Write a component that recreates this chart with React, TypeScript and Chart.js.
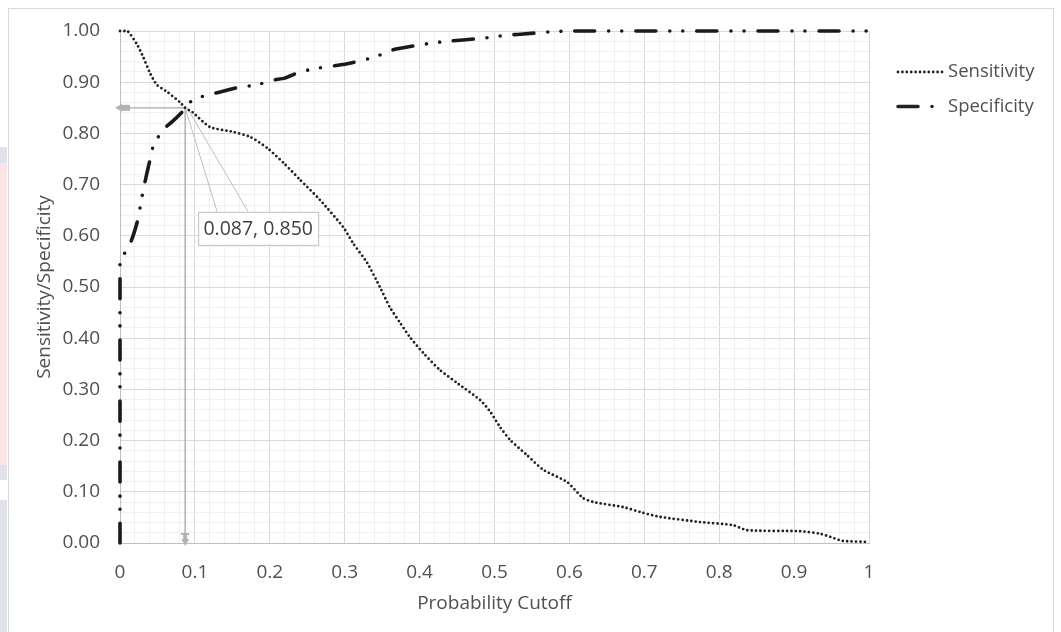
import React, { useEffect, useRef } from "react";
import { Chart, registerables } from "chart.js";

Chart.register(...registerables);

// ---- data ----
const sensitivityX = [0, 0.01, 0.023, 0.031, 0.04, 0.049, 0.063, 0.08, 0.087, 0.097, 0.12, 0.151, 0.174, 0.197, 0.22, 0.24, 0.267, 0.298, 0.311, 0.33, 0.347, 0.36, 0.374, 0.387, 0.405, 0.427, 0.45, 0.481, 0.495, 0.507, 0.521, 0.543, 0.565, 0.597, 0.618, 0.632, 0.672, 0.698, 0.721, 0.774, 0.818, 0.837, 0.908, 0.935, 0.952, 0.965, 1.0];
const sensitivityY = [1.0, 1.0, 0.973, 0.949, 0.918, 0.895, 0.881, 0.861, 0.85, 0.841, 0.8125, 0.803, 0.793, 0.771, 0.74, 0.71, 0.67, 0.617, 0.586, 0.547, 0.5, 0.461, 0.43, 0.402, 0.371, 0.338, 0.3125, 0.279, 0.255, 0.227, 0.201, 0.172, 0.143, 0.119, 0.088, 0.08, 0.07, 0.059, 0.051, 0.041, 0.035, 0.025, 0.023, 0.018, 0.01, 0.004, 0.002];

const specificityX = [0, 0, 0.011, 0.017, 0.023, 0.027, 0.031, 0.036, 0.04, 0.044, 0.057, 0.069, 0.083, 0.087, 0.097, 0.117, 0.134, 0.156, 0.183, 0.204, 0.22, 0.24, 0.267, 0.3, 0.33, 0.347, 0.364, 0.401, 0.431, 0.485, 0.517, 0.538, 0.57, 0.605, 1.0];
const specificityY = [0, 0.55, 0.576, 0.598, 0.627, 0.656, 0.689, 0.723, 0.748, 0.773, 0.807, 0.822, 0.842, 0.85, 0.865, 0.875, 0.881, 0.889, 0.895, 0.904, 0.908, 0.92, 0.928, 0.935, 0.945, 0.953, 0.963, 0.973, 0.979, 0.986, 0.992, 0.994, 0.998, 1.0, 1.0];

const xTickLabels = ["0", "0.1", "0.2", "0.3", "0.4", "0.5", "0.6", "0.7", "0.8", "0.9", "1"];
const yTickLabels = ["0.00", "0.10", "0.20", "0.30", "0.40", "0.50", "0.60", "0.70", "0.80", "0.90", "1.00"];

const seriesNames = ["Sensitivity", "Specificity"];
const cutoffX = 0.087;
const cutoffY = 0.85;
const cutoffLabel = "0.087, 0.850";
const xTitle = "Probability Cutoff";
const yTitle = "Sensitivity/Specificity";

const FONT = "'Open Sans', sans-serif";
const TEXT = "#505050";
const FS = 19;
const SENS_DASH = [0, 4.4];
const SPEC_DASH = [20, 14, 0, 13, 0, 14];

const isMajor = (v: number) => Math.abs(v * 10 - Math.round(v * 10)) < 1e-6;

const toPoints = (xs: number[], ys: number[]) => xs.map((x, i) => ({ x, y: ys[i] }));

const annotationPlugin = {
  id: "cutoffAnnotation",
  beforeDatasetsDraw(chart: any) {
    const { ctx, scales } = chart;
    const x = scales.x, y = scales.y;
    const px = x.getPixelForValue(cutoffX);
    const py = y.getPixelForValue(cutoffY);
    const x0 = x.getPixelForValue(0);
    const y0 = y.getPixelForValue(0);
    ctx.save();
    ctx.strokeStyle = "#a6a6a6";
    ctx.lineWidth = 1.3;
    ctx.beginPath();
    ctx.moveTo(px, py);
    ctx.lineTo(x0 + 6, py);
    ctx.moveTo(px, py);
    ctx.lineTo(px, y0 - 6);
    ctx.stroke();
    // leader lines
    ctx.strokeStyle = "#bfbfbf";
    ctx.lineWidth = 1;
    ctx.beginPath();
    ctx.moveTo(px, py);
    ctx.lineTo(px + 32, py + 104);
    ctx.moveTo(px + 2, py);
    ctx.lineTo(px + 63, py + 104);
    ctx.stroke();
    // arrowheads
    ctx.fillStyle = "#b3b3b3";
    ctx.beginPath();
    ctx.moveTo(x0 - 5, py);
    ctx.lineTo(x0 + 2, py - 4);
    ctx.lineTo(x0 + 2, py + 4);
    ctx.closePath();
    ctx.fill();
    ctx.fillRect(x0 + 1, py - 3, 9, 6);
    ctx.beginPath();
    ctx.moveTo(px, y0 + 3);
    ctx.lineTo(px - 4, y0 - 4);
    ctx.lineTo(px + 4, y0 - 4);
    ctx.closePath();
    ctx.fill();
    ctx.fillRect(px - 2, y0 - 10, 4, 7);
    ctx.fillRect(px - 4, y0 - 10, 8, 2);
    ctx.restore();
  },
  afterDatasetsDraw(chart: any) {
    const { ctx, scales } = chart;
    const px = scales.x.getPixelForValue(cutoffX);
    const py = scales.y.getPixelForValue(cutoffY);
    ctx.save();
    const bx = px + 13, by = py + 104, bw = 120, bh = 33;
    ctx.fillStyle = "#ffffff";
    ctx.fillRect(bx, by, bw, bh);
    ctx.strokeStyle = "#bfbfbf";
    ctx.lineWidth = 1;
    ctx.strokeRect(bx + 0.5, by + 0.5, bw, bh);
    ctx.fillStyle = "#404040";
    ctx.font = `19.5px ${FONT}`;
    ctx.textAlign = "center";
    ctx.textBaseline = "middle";
    ctx.fillText(cutoffLabel, bx + bw / 2, by + bh / 2 + 1);
    ctx.restore();
  },
  afterDraw(chart: any) {
    const { ctx } = chart;
    ctx.save();
    ctx.font = `${FS - 0.5}px ${FONT}`;
    ctx.textAlign = "left";
    ctx.textBaseline = "middle";
    const entries = [
      { y: 63, dash: SENS_DASH, width: 2.8 },
      { y: 97.5, dash: SPEC_DASH, width: 3.6 },
    ];
    entries.forEach((e, i) => {
      ctx.strokeStyle = "#222222";
      ctx.lineWidth = e.width;
      ctx.lineCap = "round";
      ctx.setLineDash(e.dash);
      ctx.beginPath();
      ctx.moveTo(889, e.y);
      ctx.lineTo(935, e.y);
      ctx.stroke();
      ctx.setLineDash([]);
      ctx.fillStyle = TEXT;
      ctx.fillText(seriesNames[i], 939, e.y);
    });
    ctx.restore();
  },
};

export default function App() {
  const ref = useRef<HTMLCanvasElement | null>(null);
  useEffect(() => {
    if (!ref.current) return;
    const gridColor = (c: any) => (c.tick && isMajor(c.tick.value) ? "#d9d9d9" : "#f0f0f0");
    const chart = new Chart(ref.current, {
      type: "scatter",
      data: {
        datasets: [
          {
            label: seriesNames[0],
            data: toPoints(sensitivityX, sensitivityY),
            showLine: true,
            borderColor: "#222222",
            borderWidth: 2.8,
            borderDash: SENS_DASH,
            borderCapStyle: "round",
            pointRadius: 0,
            tension: 0.2,
            clip: false,
          } as any,
          {
            label: seriesNames[1],
            data: toPoints(specificityX, specificityY),
            showLine: true,
            borderColor: "#1a1a1a",
            borderWidth: 3.6,
            borderDash: SPEC_DASH,
            borderCapStyle: "round",
            pointRadius: 0,
            tension: 0.2,
            clip: false,
          } as any,
        ],
      },
      options: {
        responsive: false,
        animation: false,
        devicePixelRatio: 1,
        layout: { autoPadding: false, padding: { left: 0, top: 22, right: 184, bottom: 0 } },
        plugins: { legend: { display: false }, tooltip: { enabled: false } },
        scales: {
          x: {
            type: "linear",
            min: 0,
            max: 1,
            afterFit: (s: any) => { s.height = 89; s.paddingLeft = 0; s.paddingRight = 0; },
            grid: { color: gridColor, drawTicks: false, lineWidth: 1 },
            border: { color: "#bfbfbf" },
            ticks: {
              stepSize: 0.02,
              autoSkip: false,
              maxRotation: 0,
              maxTicksLimit: 100,
              padding: 18,
              color: TEXT,
              font: { family: FONT, size: FS },
              callback: (v: any) => (isMajor(Number(v)) ? xTickLabels[Math.round(Number(v) * 10)] : ""),
            },
            title: {
              display: true,
              text: xTitle,
              color: TEXT,
              font: { family: FONT, size: FS },
              padding: { top: 0, bottom: 17.5 },
            },
          },
          y: {
            type: "linear",
            min: 0,
            max: 1,
            afterFit: (s: any) => { s.width = 111; s.paddingTop = 0; s.paddingBottom = 0; },
            grid: { color: gridColor, drawTicks: false, lineWidth: 1 },
            border: { color: "#bfbfbf" },
            ticks: {
              stepSize: 0.02,
              autoSkip: false,
              maxTicksLimit: 100,
              padding: 20,
              color: TEXT,
              font: { family: FONT, size: FS },
              callback: (v: any) => (isMajor(Number(v)) ? yTickLabels[Math.round(Number(v) * 10)] : ""),
            },
            title: {
              display: true,
              text: yTitle,
              color: TEXT,
              font: { family: FONT, size: FS },
              padding: { top: 24.5, bottom: 0 },
            },
          },
        },
      } as any,
      plugins: [annotationPlugin],
    });
    return () => chart.destroy();
  }, []);

  return (
    <div>
      <div style={{ position: "fixed", left: 0, top: 147, width: 7, height: 16, background: "#dfe2ea" }} />
      <div style={{ position: "fixed", left: 0, top: 163, width: 7, height: 302, background: "#fbe3e6" }} />
      <div style={{ position: "fixed", left: 0, top: 465, width: 7, height: 15, background: "#dfe2ea" }} />
      <div style={{ position: "fixed", left: 0, top: 500, width: 7, height: 132, background: "#dfe2ea" }} />
      <div
        style={{
          position: "fixed",
          left: 8,
          top: 8,
          width: 1046,
          height: 640,
          boxSizing: "border-box",
          border: "1px solid #d9d9d9",
          overflow: "hidden",
          background: "#ffffff",
        }}
      >
        <canvas ref={ref} width={1044} height={623} style={{ display: "block" }} />
      </div>
    </div>
  );
}
